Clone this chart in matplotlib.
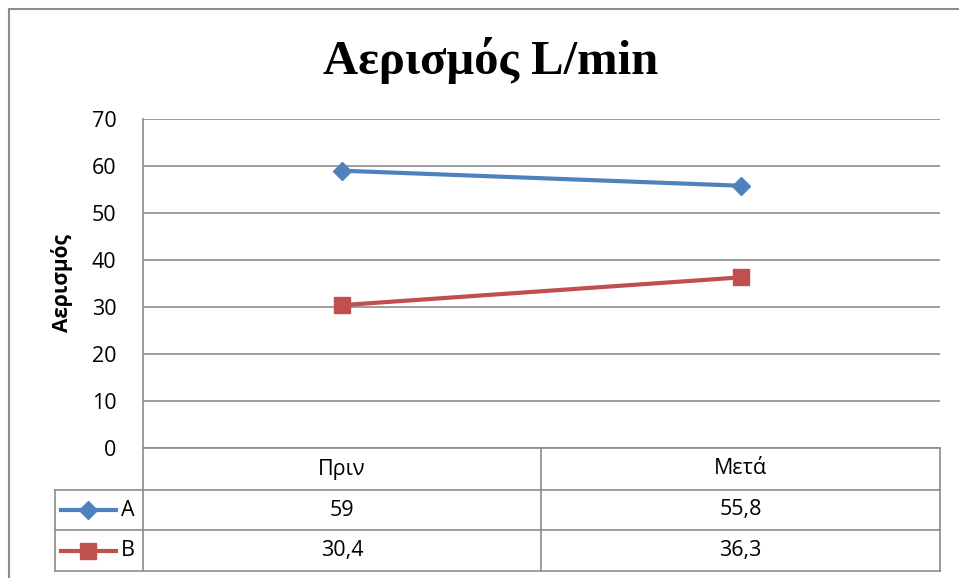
import matplotlib
matplotlib.use("Agg")
import matplotlib.pyplot as plt
from matplotlib.lines import Line2D
from matplotlib.patches import Rectangle

title = "Αερισμός L/min"
ylabel = "Αερισμός"
categories = ["Πριν", "Μετά"]
series_names = ["A", "B"]
series_A = [59, 55.8]
series_B = [30.4, 36.3]
table_A = ["59", "55,8"]
table_B = ["30,4", "36,3"]
yticks = [0, 10, 20, 30, 40, 50, 60, 70]

W, H = 959, 578
fig = plt.figure(figsize=(W / 100, H / 100), dpi=100)
fig.patch.set_facecolor("white")

def fx(px):
    return px / W

def fy(py):
    return 1 - py / H

# outer chart border (cropped at right/bottom)
fig.add_artist(Rectangle((fx(9), fy(600)), fx(980) - fx(9), fy(9) - fy(600),
                         transform=fig.transFigure, fill=False,
                         edgecolor="#8c8c8c", linewidth=1.5, clip_on=False))

FS = 15.5
L, R, T, B = 143, 940, 119, 448
ax = fig.add_axes([fx(L), fy(B), fx(R) - fx(L), fy(T) - fy(B)])
ax.set_xlim(0, len(categories))
ax.set_ylim(0, 70)
ax.set_yticks(yticks)
ax.set_yticklabels([str(v) for v in yticks], fontsize=FS, family="Open Sans")
ax.tick_params(axis="y", length=0, pad=19)
ax.set_xticks([])
for s in ["top", "right", "bottom"]:
    ax.spines[s].set_visible(False)
ax.spines["left"].set_color("#8c8c8c")
ax.spines["left"].set_linewidth(1.2)
for v in yticks:
    ax.axhline(v, color="#8c8c8c", linewidth=1.2, zorder=0)

colA, colB = "#4F81BD", "#C0504D"
xs = [i + 0.5 for i in range(len(categories))]
ax.plot(xs, series_A, color=colA, linewidth=3, marker="D", markersize=9,
        markeredgecolor=colA, zorder=3)
ax.plot(xs, series_B, color=colB, linewidth=3, marker="s", markersize=12,
        markeredgecolor=colB, zorder=3)

ax.set_ylabel(ylabel, fontsize=15, fontweight="bold", family="Open Sans")
ax.yaxis.set_label_coords((fx(73) - fx(L)) / (fx(R) - fx(L)), 0.5)

fig.text(fx(491), fy(61), title, fontsize=35, fontweight="bold",
         family="Liberation Serif", ha="center", va="center")

# data table
gc = "#8c8c8c"
lw = 1.2
col_x = [55, 143, 541, 940]
row_y = [448, 490, 530, 571]

def hline(x0, x1, y):
    fig.add_artist(Line2D([fx(x0), fx(x1)], [fy(y), fy(y)], transform=fig.transFigure,
                          color=gc, linewidth=lw))

def vline(x, y0, y1):
    fig.add_artist(Line2D([fx(x), fx(x)], [fy(y0), fy(y1)], transform=fig.transFigure,
                          color=gc, linewidth=lw))

hline(143, 940, row_y[0])
hline(55, 940, row_y[1])
hline(55, 940, row_y[2])
hline(55, 940, row_y[3])
vline(55, row_y[1], row_y[3])
for x in col_x[1:]:
    vline(x, row_y[0], row_y[3])

tfont = dict(fontsize=FS, family="Open Sans", ha="center", va="center")
for i, c in enumerate(categories):
    cx = (col_x[1 + i] + col_x[2 + i]) / 2
    fig.text(fx(cx), fy((row_y[0] + row_y[1]) / 2), c, **tfont)
rows = [(table_A, series_names[0], colA, "D", 9), (table_B, series_names[1], colB, "s", 12)]
for r, (vals, name, col, mk, ms) in enumerate(rows):
    cy = (row_y[1 + r] + row_y[2 + r]) / 2
    for i, v in enumerate(vals):
        cx = (col_x[1 + i] + col_x[2 + i]) / 2
        fig.text(fx(cx), fy(cy), v, **tfont)
    fig.add_artist(Line2D([fx(61), fx(116)], [fy(cy), fy(cy)], transform=fig.transFigure,
                          color=col, linewidth=3))
    fig.add_artist(Line2D([fx(88)], [fy(cy)], transform=fig.transFigure, color=col,
                          marker=mk, markersize=ms, markeredgecolor=col, linestyle="none"))
    fig.text(fx(128), fy(cy), name, fontsize=FS, family="Open Sans", ha="center", va="center")

fig.savefig("out.png", dpi=100)
